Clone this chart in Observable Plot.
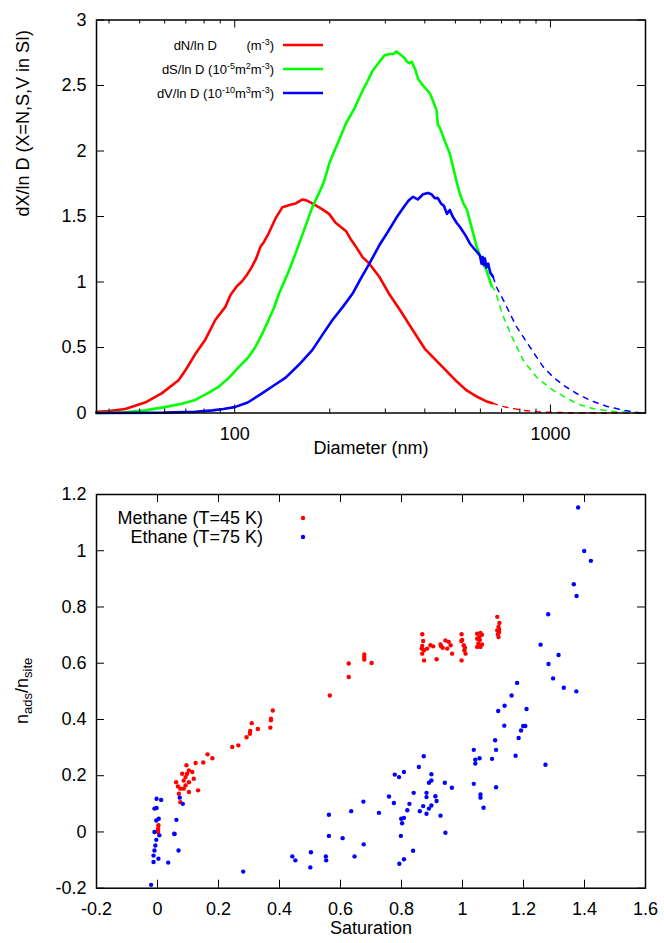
<!DOCTYPE html>
<html><head><meta charset="utf-8">
<script src="https://cdn.jsdelivr.net/npm/d3@7"></script>
<script src="https://cdn.jsdelivr.net/npm/@observablehq/plot@0.6"></script>
<style>
body{margin:0;background:#fff;font-family:"Liberation Sans",Arial,sans-serif;}
#chart svg{display:block;}
</style></head><body><div id="chart"></div>
<script>
// ---------- Top panel data: size distributions (Diameter nm, value) ----------
const redD = [36.5,40,45,52,58.7,66.4,70,75,80.7,86.8,93.4,97,101.7,105,109,113,117,120.7,124,128,135,141.5,146,150,156,164,170,176,188,199,209,217,225,234,242,254,267,287,310,335,367,400,435,469,505,544,590,625,655];
const redV = [0.01,0.015,0.03,0.08,0.15,0.25,0.33,0.45,0.56,0.71,0.81,0.9,0.97,1.0,1.05,1.11,1.18,1.27,1.31,1.37,1.49,1.57,1.58,1.59,1.60,1.63,1.62,1.60,1.56,1.52,1.45,1.42,1.39,1.32,1.27,1.19,1.14,1.04,0.90,0.78,0.63,0.49,0.40,0.32,0.24,0.17,0.12,0.09,0.075];
const redDashD = [655,720,820,900,1000,1200,1500,2000];
const redDashV = [0.075,0.045,0.02,0.01,0.005,0.001,0,0];

const greenD = [36.5,45,52,60,68,75,82,89,96,103,110,116,122,128,133,138,147,156,166,176,185,192,199,206,213,225,240,254,263,273,285,298,310,318,325,333,345,352,358,364,372,381,395,415,425,436,440,446,462,480,504,517,530,544,565,584,605,627,651];
const greenV = [0,0.005,0.02,0.045,0.07,0.1,0.15,0.2,0.27,0.35,0.42,0.5,0.6,0.71,0.8,0.91,1.06,1.22,1.4,1.57,1.68,1.77,1.90,1.99,2.07,2.21,2.33,2.46,2.53,2.61,2.67,2.73,2.74,2.74,2.76,2.74,2.71,2.68,2.67,2.68,2.63,2.55,2.50,2.44,2.38,2.31,2.20,2.18,2.08,1.98,1.77,1.67,1.60,1.55,1.40,1.27,1.17,1.09,0.97];
const greenDashD = [651,668,703,756,821,904,1021,1214,1372,1591,1890,2000];
const greenDashV = [0.97,0.935,0.757,0.579,0.40,0.273,0.172,0.07,0.032,0.011,0.0,0.0];

const blueD = [36.5,60,75,85,92,100,110,122,133,145,160,176,190,204,220,236,250,267,287,305,325,345,355,367,380,395,409,420,430,440,450,460,470,480,490,505,517,540,557,575,590,598,605,610,615,620,627,635,645,658];
const blueV = [0,0.003,0.01,0.02,0.03,0.045,0.08,0.15,0.21,0.27,0.37,0.48,0.6,0.71,0.81,0.91,1.02,1.14,1.28,1.38,1.49,1.58,1.62,1.65,1.63,1.67,1.68,1.67,1.64,1.64,1.6,1.58,1.52,1.55,1.5,1.45,1.42,1.35,1.29,1.25,1.22,1.2,1.14,1.19,1.13,1.18,1.11,1.14,1.07,1.04];
const blueDashD = [658,675,710,745,782,821,862,904,950,1021,1102,1214,1340,1514,1708,1930,2000];
const blueDashV = [1.04,0.96,0.86,0.757,0.655,0.579,0.502,0.426,0.35,0.273,0.21,0.147,0.095,0.05,0.02,0.0,0.0];

const topXMajor = [100, 1000];
const topXMinor = [40,50,60,70,80,90,200,300,400,500,600,700,800,900];
const topYTicks = [0,0.5,1,1.5,2,2.5,3];
const topXLabel = "Diameter (nm)";
const topYLabel = "dX/ln D (X=N,S,V in SI)";

// ---------- Bottom panel data: adsorption vs saturation ----------
const methaneS = [0.002,0.002,0.003,0.001,0.075,0.07,0.075,0.061,0.067,0.081,0.086,0.092,0.097,0.103,0.114,0.119,0.103,0.092,0.086,0.103,0.133,0.095,0.125,0.15,0.164,0.18,0.245,0.265,0.292,0.303,0.304,0.309,0.329,0.37,0.372,0.372,0.378,0.565,0.627,0.627,0.678,0.678,0.678,0.702,0.868,0.871,0.868,0.866,0.874,0.868,0.874,0.884,0.895,0.904,0.915,0.928,0.944,0.955,0.961,0.95,0.966,0.935,0.93,0.997,0.996,1.004,1.006,1.01,0.997,0.999,1.008,1.048,1.059,1.048,1.057,1.052,1.064,1.048,1.059,1.064,1.055,1.114,1.121,1.118,1.114,1.12,1.116,1.118,1.12];
const methaneN = [0.0,0.012,0.024,0.006,0.106,0.136,0.154,0.177,0.162,0.207,0.183,0.195,0.207,0.219,0.213,0.189,0.177,0.165,0.154,0.142,0.148,0.237,0.245,0.247,0.276,0.262,0.302,0.308,0.337,0.349,0.359,0.387,0.366,0.371,0.397,0.403,0.432,0.485,0.551,0.599,0.631,0.622,0.613,0.601,0.703,0.679,0.661,0.652,0.646,0.634,0.61,0.652,0.664,0.66,0.614,0.667,0.681,0.676,0.664,0.652,0.634,0.655,0.66,0.703,0.679,0.664,0.646,0.634,0.61,0.683,0.655,0.705,0.708,0.687,0.683,0.67,0.667,0.658,0.658,0.701,0.693,0.765,0.743,0.729,0.717,0.711,0.703,0.693,0.72];

const ethaneS = [-0.003,0.012,-0.01,-0.003,0.004,-0.004,-0.01,0.073,0.083,0.062,0.056,0.562,0.635,0.675,0.726,
 -0.021,-0.013,0.003,0.035,0.069,-0.01,-0.013,-0.007,-0.004,0.006,0.055,0.281,0.442,0.452,0.503,0.501,0.552,0.553,0.562,0.607,0.646,0.676,0.793,0.808,0.798,0.838,0.944,
 1.379,1.399,1.421,1.365,1.374,1.281,1.256,1.315,1.282,1.297,1.332,1.373,1.179,1.161,1.138,1.117,1.21,1.137,1.199,1.206,1.192,1.184,1.107,1.11,1.097,1.174,1.272,1.037,1.042,1.056,1.042,1.037,1.11,1.059,1.059,1.069,
 0.873,0.857,0.898,0.898,0.89,0.942,0.965,0.882,0.882,0.911,0.915,0.898,0.89,0.871,0.882,0.86,0.928,0.84,0.826,0.819,0.808,0.799,0.802,0.778,0.792,0.808,0.759,0.775];
const ethaneN = [0.118,0.114,0.083,0.085,0.047,0.041,0.0,0.122,0.1,0.043,-0.007,0.061,0.074,0.108,0.068,
 -0.188,-0.107,-0.095,-0.109,-0.066,-0.066,-0.084,-0.048,-0.028,-0.012,-0.006,-0.141,-0.087,-0.101,-0.072,-0.126,-0.087,-0.101,-0.014,-0.022,-0.087,-0.044,-0.113,-0.097,-0.014,-0.067,-0.003,
 1.154,0.999,0.964,0.881,0.839,0.774,0.666,0.629,0.597,0.546,0.513,0.5,0.53,0.485,0.449,0.43,0.437,0.378,0.377,0.377,0.361,0.334,0.326,0.292,0.26,0.271,0.239,0.292,0.257,0.262,0.243,0.171,0.159,0.133,0.122,0.086,
 0.269,0.231,0.205,0.183,0.175,0.175,0.157,0.139,0.124,0.127,0.11,0.094,0.083,0.092,0.065,0.074,0.058,0.139,0.1,0.077,0.05,0.047,0.031,0.204,0.195,0.213,0.126,0.103];

const botXTicks = [-0.2,0,0.2,0.4,0.6,0.8,1,1.2,1.4,1.6];
const botYTicks = [-0.2,0,0.2,0.4,0.6,0.8,1,1.2];
const botXLabel = "Saturation";
const seriesNames = ["Methane (T=45 K)", "Ethane (T=75 K)"];

// ---------- styling ----------
const FONT = "'Liberation Sans', Arial, Helvetica, sans-serif";
const RED = "#ff0000", GREEN = "#00ff00", BLUE = "#0000ff";
const W = 664;

const pts = (D, V) => D.map((d, i) => ({d, v: V[i]}));
const xy = (S, N) => S.map((s, i) => ({s, n: N[i]}));

function tickMarks(xMajor, xMinor, yTicks, FH, FW, maj, min) {
  const m = [];
  m.push(Plot.ruleX(xMajor, {x: d => d, insetTop: FH - maj, stroke: "black", strokeWidth: 1}));
  m.push(Plot.ruleX(xMajor, {x: d => d, insetBottom: FH - maj, stroke: "black", strokeWidth: 1}));
  if (xMinor.length) {
    m.push(Plot.ruleX(xMinor, {x: d => d, insetTop: FH - min, stroke: "black", strokeWidth: 1}));
    m.push(Plot.ruleX(xMinor, {x: d => d, insetBottom: FH - min, stroke: "black", strokeWidth: 1}));
  }
  m.push(Plot.ruleY(yTicks, {y: d => d, insetRight: FW - maj, stroke: "black", strokeWidth: 1}));
  m.push(Plot.ruleY(yTicks, {y: d => d, insetLeft: FW - maj, stroke: "black", strokeWidth: 1}));
  return m;
}

function rich(textSel, parts, small, shift) {
  let cur = 0;
  parts.forEach(p => {
    const isObj = typeof p !== "string";
    const target = isObj ? (p.sup ? -shift : shift) : 0;
    const t = textSel.append("tspan").attr("dy", target - cur).text(isObj ? p.t : p);
    if (isObj) t.attr("font-size", small);
    cur = target;
  });
}

// ---------- Top chart ----------
const tML = 96, tMR = 19, tMT = 19.5, tH = 470, tMB = 57.5;
const tFH = tH - tMT - tMB, tFW = W - tML - tMR;
const topChart = Plot.plot({
  width: W, height: tH,
  marginLeft: tML, marginRight: tMR, marginTop: tMT, marginBottom: tMB,
  style: {fontFamily: FONT, fontSize: "18px", background: "white", color: "black"},
  x: {type: "log", domain: [36.5, 2000]},
  y: {domain: [0, 3]},
  marks: [
    Plot.line(pts(redDashD, redDashV), {x: "d", y: "v", stroke: RED, strokeWidth: 1.5, strokeDasharray: "5,6"}),
    Plot.line(pts(greenDashD, greenDashV), {x: "d", y: "v", stroke: GREEN, strokeWidth: 1.5, strokeDasharray: "5,6"}),
    Plot.line(pts(blueDashD, blueDashV), {x: "d", y: "v", stroke: BLUE, strokeWidth: 1.5, strokeDasharray: "5,6"}),
    Plot.line(pts(redD, redV), {x: "d", y: "v", stroke: RED, strokeWidth: 2.6}),
    Plot.line(pts(greenD, greenV), {x: "d", y: "v", stroke: GREEN, strokeWidth: 2.6}),
    Plot.line(pts(blueD, blueV), {x: "d", y: "v", stroke: BLUE, strokeWidth: 2.6}),
    ...tickMarks(topXMajor, topXMinor, topYTicks, tFH, tFW, 8, 4),
    Plot.axisX({ticks: topXMajor, tickSize: 0, tickPadding: 14, tickFormat: d => String(d), label: null, fontSize: 18}),
    Plot.axisY({ticks: topYTicks, tickSize: 0, tickPadding: 10, tickFormat: d => String(d), label: null, fontSize: 18}),
    Plot.frame({stroke: "black", strokeWidth: 1.5}),
    Plot.text([topXLabel], {text: d => d, frameAnchor: "bottom", dy: 41, fontSize: 18}),
    Plot.text([topYLabel], {text: d => d, frameAnchor: "left", rotate: -90, dx: -73.5, fontSize: 18})
  ]
});

// legend (top)
{
  const svg = d3.select(topChart);
  const g = svg.append("g").attr("font-family", FONT).attr("font-size", 13).attr("fill", "black");
  const rows = [
    {y: 45, color: RED, parts: ["(m", {t: "-3", sup: true}, ")"], pre: "dN/ln D"},
    {y: 69, color: GREEN, parts: ["dS/ln D (10", {t: "-5", sup: true}, "m", {t: "2", sup: true}, "m", {t: "-3", sup: true}, ")"]},
    {y: 93, color: BLUE, parts: ["dV/ln D (10", {t: "-10", sup: true}, "m", {t: "3", sup: true}, "m", {t: "-3", sup: true}, ")"]}
  ];
  rows.forEach(r => {
    const t = g.append("text").attr("x", 274).attr("y", r.y + 4.5).attr("text-anchor", "end");
    rich(t, r.parts, 9, 5);
    if (r.pre) g.append("text").attr("x", 217).attr("y", r.y + 4.5).attr("text-anchor", "end").text(r.pre);
    g.append("line").attr("x1", 283).attr("x2", 323).attr("y1", r.y).attr("y2", r.y)
      .attr("stroke", r.color).attr("stroke-width", 2.6);
  });
}

// ---------- Bottom chart ----------
const bML = 96, bMR = 19, bMT = 24, bH = 473, bMB = 55.3;
const bFH = bH - bMT - bMB, bFW = W - bML - bMR;
const botChart = Plot.plot({
  width: W, height: bH,
  marginLeft: bML, marginRight: bMR, marginTop: bMT, marginBottom: bMB,
  style: {fontFamily: FONT, fontSize: "18px", background: "white", color: "black"},
  x: {domain: [-0.2, 1.6]},
  y: {domain: [-0.2, 1.2]},
  marks: [
    Plot.dot(xy(methaneS, methaneN), {x: "s", y: "n", r: 2.2, fill: RED, stroke: null}),
    Plot.dot(xy(ethaneS, ethaneN), {x: "s", y: "n", r: 2.2, fill: BLUE, stroke: null}),
    ...tickMarks(botXTicks, [], botYTicks, bFH, bFW, 8, 4),
    Plot.axisX({ticks: botXTicks, tickSize: 0, tickPadding: 14, tickFormat: d => String(d), label: null, fontSize: 18}),
    Plot.axisY({ticks: botYTicks, tickSize: 0, tickPadding: 10, tickFormat: d => String(d), label: null, fontSize: 18}),
    Plot.frame({stroke: "black", strokeWidth: 1.5}),
    Plot.text([botXLabel], {text: d => d, frameAnchor: "bottom", dy: 46, fontSize: 18})
  ]
});

{
  const svg = d3.select(botChart);
  const g = svg.append("g").attr("font-family", FONT).attr("font-size", 18).attr("fill", "black");
  const rows = [{y: 48, color: RED, name: seriesNames[0]}, {y: 67, color: BLUE, name: seriesNames[1]}];
  rows.forEach(r => {
    g.append("text").attr("x", 263).attr("y", r.y + 6.4).attr("text-anchor", "end").text(r.name);
    g.append("circle").attr("cx", 303).attr("cy", r.y).attr("r", 2.2).attr("fill", r.color);
  });
  const yl = g.append("text").attr("text-anchor", "middle")
    .attr("transform", `translate(${22 + 6.4},${bMT + bFH / 2}) rotate(-90)`);
  rich(yl, ["n", {t: "ads", sup: false}, "/n", {t: "site", sup: false}], 13, 4);
}

document.getElementById("chart").append(topChart, botChart);
</script>
</body></html>
